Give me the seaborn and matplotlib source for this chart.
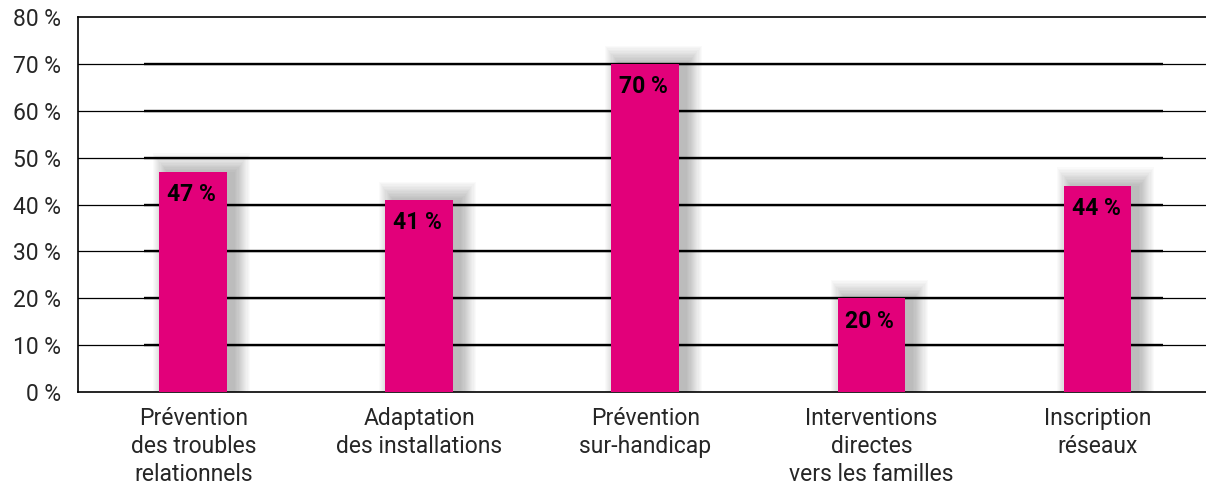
import pandas as pd
import numpy as np
import matplotlib
matplotlib.use('Agg')
import matplotlib.pyplot as plt
import seaborn as sns

# data
categories = ['Prévention\ndes troubles\nrelationnels', 'Adaptation\ndes installations',
              'Prévention\nsur-handicap', 'Interventions\ndirectes\nvers les familles',
              'Inscription\nréseaux']
values = [47, 41, 70, 20, 44]
yticks = [0, 10, 20, 30, 40, 50, 60, 70, 80]

df = pd.DataFrame({'cat': categories, 'val': values})

sns.set_style('white')
plt.rcParams['font.family'] = ['Roboto', 'DejaVu Sans']

fig = plt.figure(figsize=(12.06, 4.86), dpi=100)
ax = fig.add_axes([0.0647, 0.1934, 0.9353, 0.7716])

pink = '#E2007A'
bw = 0.30

# grid lines: thin full width, thicker inner segment
for y in yticks[1:-1]:
    ax.axhline(y, color='black', lw=0.9, zorder=0)
    ax.hlines(y, -0.22, 4.29, color='black', lw=1.7, zorder=0)

# soft shadow behind the bars (offset to the right and up)
x = np.arange(len(values))
for i in range(14):
    off = 0.005 * i
    ax.bar(x + 0.035, np.array(values) + 0.3 * i, width=bw + 2 * off,
           color='black', alpha=0.02, zorder=1, linewidth=0)

sns.barplot(data=df, x='cat', y='val', color=pink, width=bw, saturation=1,
            linewidth=0, ax=ax, zorder=3)

for i, v in enumerate(values):
    ax.text(i - bw / 2 + 0.035, v - 2.4, f'{v} %', ha='left', va='top',
            fontsize=16.5, fontweight='bold', color='black', zorder=4)

ax.set_xlim(-0.51, 4.48)
ax.set_ylim(0, 80)
ax.set_yticks(yticks)
ax.set_yticklabels([f'{t} %' for t in yticks], fontsize=16.5)
ax.tick_params(axis='x', labelsize=16.5, length=0, pad=11)
ax.tick_params(axis='y', length=0, pad=12)
ax.set_xlabel('')
ax.set_ylabel('')
for lbl in ax.get_xticklabels():
    lbl.set_linespacing(1.27)

for s in ['left', 'top', 'bottom']:
    ax.spines[s].set_color('black')
    ax.spines[s].set_linewidth(1.2)
ax.spines['right'].set_visible(False)

fig.savefig('out.png', dpi=100)
